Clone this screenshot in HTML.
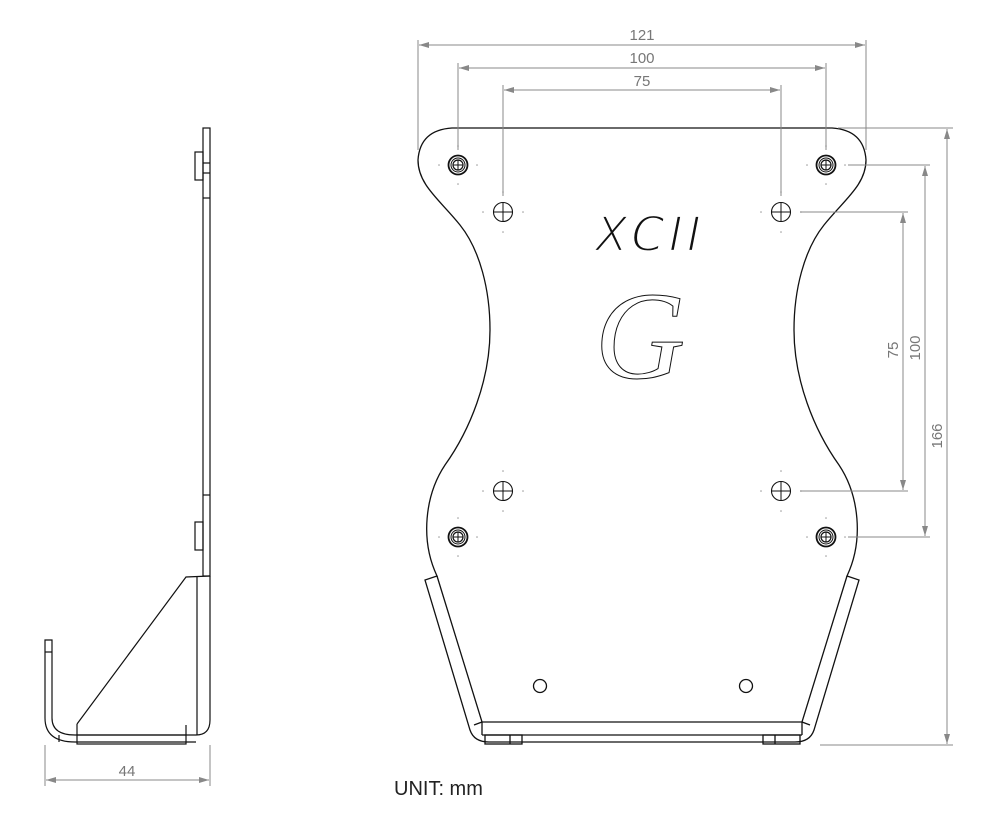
<!DOCTYPE html>
<html><head><meta charset="utf-8"><style>
html,body{margin:0;padding:0;background:#fff}
svg{display:block}
text{font-family:"Liberation Sans","DejaVu Sans",sans-serif}
</style></head><body>
<svg width="1000" height="825" viewBox="0 0 1000 825" xmlns="http://www.w3.org/2000/svg">
<defs>
<marker id="a" viewBox="0 0 10 6" refX="10" refY="3" markerWidth="10" markerHeight="6" orient="auto-start-reverse" markerUnits="userSpaceOnUse"><path d="M0,0 L10,3 L0,6 Z" fill="#888"/></marker>
<g id="mh"><circle r="9.5" fill="none" stroke="#111" stroke-width="1.8"/><circle r="7" fill="none" stroke="#111" stroke-width="1"/><circle r="5" fill="none" stroke="#111" stroke-width="1.2"/><line x1="-5" y1="0" x2="5" y2="0" stroke="#111"/><line x1="0" y1="-5" x2="0" y2="5" stroke="#111"/><g fill="#999"><circle cx="0" cy="-19" r="0.8"/><circle cx="0" cy="19" r="0.8"/><circle cx="-19" cy="0" r="0.8"/><circle cx="19" cy="0" r="0.8"/></g></g>
<g id="ih"><circle r="9.5" fill="none" stroke="#111" stroke-width="1.1"/><line x1="-10" y1="0" x2="10" y2="0" stroke="#111"/><line x1="0" y1="-10" x2="0" y2="10" stroke="#111"/><g fill="#999"><circle cx="0" cy="-20" r="0.8"/><circle cx="0" cy="20" r="0.8"/><circle cx="-20" cy="0" r="0.8"/><circle cx="20" cy="0" r="0.8"/></g></g>
</defs>

<!-- Side view -->
<g fill="none" stroke="#111" stroke-width="1.2">
<rect x="203" y="128" width="7" height="448"/>
<rect x="195" y="152" width="8" height="28"/>
<rect x="195" y="522" width="8" height="28"/>
<line x1="203" y1="163" x2="210" y2="163"/><line x1="203" y1="173" x2="210" y2="173"/><line x1="203" y1="198" x2="210" y2="198"/>
<line x1="203" y1="495" x2="210" y2="495"/>
<path d="M210,576 L186,577 L77,724"/>
<line x1="197" y1="577" x2="197" y2="725"/>
<path d="M210,576 L210,720 Q210,735 196,735 L75,735 Q52,735 52,718 L52,640 L45,640 L45,718 Q45,742 75,742"/>
<path d="M75,742 L196,742"/>
<rect x="77" y="735" width="109" height="9"/>
<line x1="186" y1="725" x2="186" y2="735"/><line x1="77" y1="724" x2="77" y2="735"/>
<line x1="59" y1="735" x2="59" y2="742"/><line x1="197" y1="725" x2="197" y2="735"/>
<line x1="45" y1="652" x2="52" y2="652"/>
</g>
<g stroke="#888" stroke-width="1" fill="none">
<line x1="45" y1="745" x2="45" y2="786"/><line x1="210" y1="745" x2="210" y2="786"/>
<line x1="46" y1="780" x2="209" y2="780" marker-start="url(#a)" marker-end="url(#a)"/>
</g>
<text x="127" y="776" font-size="15" fill="#777" text-anchor="middle">44</text>

<!-- Front plate -->
<g fill="none" stroke="#111" stroke-width="1.3">
<path d="M452,128 L832,128 Q864,130 866,160 C866,185 844,200 824,225 C804,250 794,290 794,330 C794,380 814,430 839,465 C859,495 864,540 847,576 L859,580 L814,730 Q810,742 795,742 L489,742 Q474,742 470,730 L425,580 L437,576 C420,540 425,495 445,465 C470,430 490,380 490,330 C490,290 480,250 460,225 C440,200 418,185 418,160 Q420,130 452,128 Z"/>
<path d="M437,576 L482,722 L802,722 L847,576"/>
<line x1="482" y1="722" x2="482" y2="735"/><line x1="802" y1="722" x2="802" y2="735"/>
<line x1="482" y1="735" x2="802" y2="735"/>
<line x1="474" y1="725" x2="482" y2="722"/><line x1="810" y1="725" x2="802" y2="722"/>
<rect x="485" y="735" width="37" height="9"/><line x1="510" y1="735" x2="510" y2="744"/>
<rect x="763" y="735" width="37" height="9"/><line x1="775" y1="735" x2="775" y2="744"/>
<circle cx="540" cy="686" r="6.5"/><circle cx="746" cy="686" r="6.5"/>
</g>
<use href="#mh" x="458" y="165"/><use href="#mh" x="826" y="165"/>
<use href="#mh" x="458" y="537"/><use href="#mh" x="826" y="537"/>
<use href="#ih" x="503" y="212"/><use href="#ih" x="781" y="212"/>
<use href="#ih" x="503" y="491"/><use href="#ih" x="781" y="491"/>

<text x="650" y="251" font-size="48" font-style="italic" fill="#111" stroke="#fff" stroke-width="2.2" text-anchor="middle" letter-spacing="4" style="font-family:'DejaVu Sans',sans-serif;font-weight:200">XCII</text>
<text x="640" y="378" font-size="125" font-style="italic" fill="#fff" stroke="#111" stroke-width="1" text-anchor="middle" style="font-family:'Liberation Serif',serif">G</text>

<!-- Dimensions -->
<g stroke="#888" stroke-width="1" fill="none">
<line x1="418" y1="40" x2="418" y2="150"/><line x1="866" y1="40" x2="866" y2="150"/>
<line x1="419" y1="45" x2="865" y2="45" marker-start="url(#a)" marker-end="url(#a)"/>
<line x1="458" y1="63" x2="458" y2="150"/><line x1="826" y1="63" x2="826" y2="150"/>
<line x1="459" y1="68" x2="825" y2="68" marker-start="url(#a)" marker-end="url(#a)"/>
<line x1="503" y1="85" x2="503" y2="196"/><line x1="781" y1="85" x2="781" y2="196"/>
<line x1="504" y1="90" x2="780" y2="90" marker-start="url(#a)" marker-end="url(#a)"/>
<line x1="838" y1="128" x2="953" y2="128"/><line x1="820" y1="745" x2="953" y2="745"/>
<line x1="947" y1="129" x2="947" y2="744" marker-start="url(#a)" marker-end="url(#a)"/>
<line x1="848" y1="165" x2="930" y2="165"/><line x1="848" y1="537" x2="930" y2="537"/>
<line x1="925" y1="166" x2="925" y2="536" marker-start="url(#a)" marker-end="url(#a)"/>
<line x1="800" y1="212" x2="908" y2="212"/><line x1="800" y1="491" x2="908" y2="491"/>
<line x1="903" y1="213" x2="903" y2="490" marker-start="url(#a)" marker-end="url(#a)"/>
</g>
<g fill="#777" font-size="15" text-anchor="middle">
<text x="642" y="40">121</text>
<text x="642" y="63">100</text>
<text x="642" y="86">75</text>
<text transform="translate(942,436) rotate(-90)">166</text>
<text transform="translate(920,348) rotate(-90)">100</text>
<text transform="translate(898,350) rotate(-90)">75</text>
</g>
<text x="394" y="795" font-size="20" fill="#222">UNIT: mm</text>
</svg>
</body></html>
